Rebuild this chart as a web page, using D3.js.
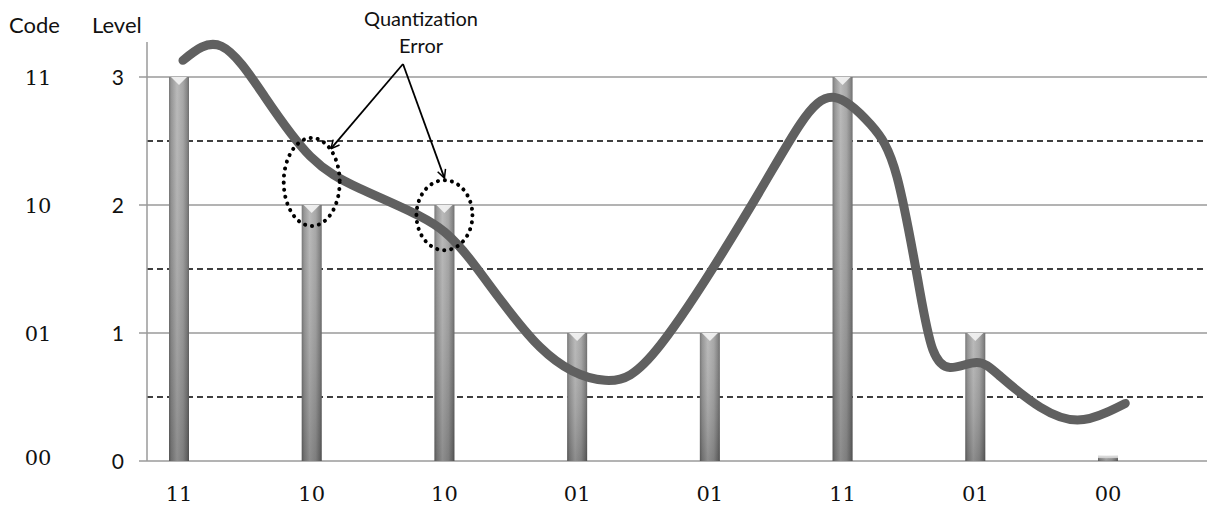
<!DOCTYPE html>
<html>
<head>
<meta charset="utf-8">
<script src="https://cdn.jsdelivr.net/npm/d3@7"></script>
<style>
  html, body { margin: 0; padding: 0; background: #fff; }
  svg { display: block; }
</style>
</head>
<body>
<svg id="chart" width="1207" height="506"></svg>
<script>
// ---- data ----
const categories = ["11", "10", "10", "01", "01", "11", "01", "00"];
const levels = [3, 2, 2, 1, 1, 3, 1, 0.04];
const levelTicks = [0, 1, 2, 3];
const codeTicks = ["00", "01", "10", "11"];
const thresholds = [0.5, 1.5, 2.5];
// analog signal: [category position, level]
const signalX = [0.03, 0.32, 0.65, 0.99, 1.36, 1.82, 2.19, 2.72, 3.21, 3.63, 4.28, 4.68, 4.94, 5.21, 5.41, 5.58, 5.68, 5.81, 6.01, 6.19, 6.49, 6.77, 6.99, 7.13];
const signalY = [3.13, 3.24, 2.84, 2.38, 2.13, 1.91, 1.58, 0.89, 0.63, 0.91, 1.94, 2.63, 2.84, 2.63, 2.22, 1.34, 0.87, 0.73, 0.77, 0.66, 0.42, 0.32, 0.38, 0.45];
const annotationText = ["Quantization", "Error"];
const errorPoints = [1, 2]; // categories marked as quantization error

(function () {
// ---- layout ----
const svg = d3.select("#chart");
const pLeft = 147, pRight = 1207, pTop = 42, pBottom = 461;

const x = d3.scaleLinear().domain([0, 7]).range([179, 1108]);
const y = d3.scaleLinear().domain([0, 3]).range([pBottom, 77]);

const defs = svg.append("defs");
const gH = defs.append("linearGradient").attr("id", "barH").attr("x1", 0).attr("x2", 1).attr("y1", 0).attr("y2", 0);
[[0, "#6c6c6c"], [0.12, "#8e8e8e"], [0.4, "#b4b4b4"], [0.7, "#a0a0a0"], [0.9, "#7c7c7c"], [1, "#626262"]]
  .forEach(([o, c]) => gH.append("stop").attr("offset", o).attr("stop-color", c));
const gV = defs.append("linearGradient").attr("id", "barV").attr("x1", 0).attr("x2", 0).attr("y1", 0).attr("y2", 1);
gV.append("stop").attr("offset", 0).attr("stop-color", "#fff").attr("stop-opacity", 0.08);
gV.append("stop").attr("offset", 1).attr("stop-color", "#000").attr("stop-opacity", 0.22);

const arrow = defs.append("marker").attr("id", "arr").attr("viewBox", "0 0 12 12")
  .attr("refX", 11).attr("refY", 6).attr("markerWidth", 10).attr("markerHeight", 10)
  .attr("markerUnits", "userSpaceOnUse").attr("orient", "auto");
arrow.append("path").attr("d", "M1,1 L11,6 L1,11").attr("fill", "none").attr("stroke", "#000").attr("stroke-width", 1.8);

// gridlines at levels
svg.append("g").selectAll("line").data(levelTicks).join("line")
  .attr("x1", 139).attr("x2", pRight).attr("y1", d => y(d)).attr("y2", d => y(d))
  .attr("stroke", "#9a9a9a").attr("stroke-width", 1.5);

// decision thresholds (dashed)
svg.append("g").selectAll("line").data(thresholds).join("line")
  .attr("x1", pLeft).attr("x2", pRight).attr("y1", d => y(d)).attr("y2", d => y(d))
  .attr("stroke", "#000").attr("stroke-width", 1.4).attr("stroke-dasharray", "6,4");

// y axis line
svg.append("line").attr("x1", pLeft).attr("x2", pLeft).attr("y1", pTop).attr("y2", pBottom)
  .attr("stroke", "#9a9a9a").attr("stroke-width", 1.5);

// bars
const bw = 20;
const barData = levels.map((v, i) => ({ i, v }));
const bars = svg.append("g").selectAll("g").data(barData).join("g");
bars.append("rect").attr("x", d => x(d.i) - bw / 2).attr("y", d => y(d.v))
  .attr("width", bw).attr("height", d => y(0) - y(d.v)).attr("fill", "url(#barH)");
bars.append("rect").attr("x", d => x(d.i) - bw / 2).attr("y", d => y(d.v))
  .attr("width", bw).attr("height", d => y(0) - y(d.v)).attr("fill", "url(#barV)");
bars.filter(d => d.v > 0.5).append("path")
  .attr("d", d => `M${x(d.i) - bw / 2 + 2},${y(d.v)} L${x(d.i) + bw / 2 - 2},${y(d.v)} L${x(d.i)},${y(d.v) + 8} Z`)
  .attr("fill", "#f4f4f4").attr("opacity", 0.9);
bars.filter(d => d.v <= 0.5).append("rect")
  .attr("x", d => x(d.i) - bw / 2).attr("y", d => y(d.v)).attr("width", bw).attr("height", 2)
  .attr("fill", "#d8d8d8");

// analog signal
const sig = signalX.map((v, i) => [v, signalY[i]]);
svg.append("path").datum(sig)
  .attr("d", d3.line().x(d => x(d[0])).y(d => y(d[1])).curve(d3.curveNatural))
  .attr("fill", "none").attr("stroke", "#606060").attr("stroke-width", 9)
  .attr("stroke-linecap", "round").attr("stroke-linejoin", "round");

// level tick labels
svg.append("g").selectAll("text").data(levelTicks).join("text")
  .attr("x", 124).attr("y", d => y(d)).attr("dy", "0.36em").attr("text-anchor", "end")
  .attr("font-family", "Lato, 'Open Sans', sans-serif").attr("font-size", 21).attr("fill", "#111")
  .text(d => d);

// code tick labels
svg.append("g").selectAll("text").data(codeTicks).join("text")
  .attr("x", 38).attr("y", (d, i) => y(i) - (i === 0 ? 4 : 0)).attr("dy", "0.36em").attr("text-anchor", "middle")
  .attr("font-family", "'DejaVu Serif', serif").attr("font-size", 21).attr("fill", "#111")
  .text(d => d);

// headers
svg.append("text").attr("x", 9).attr("y", 33).attr("font-family", "Lato, sans-serif").attr("font-size", 22).attr("fill", "#111").text("Code");
svg.append("text").attr("x", 92).attr("y", 33).attr("font-family", "Lato, sans-serif").attr("font-size", 22).attr("fill", "#111").text("Level");

// category labels
svg.append("g").selectAll("text").data(categories).join("text")
  .attr("x", (d, i) => x(i)).attr("y", 501).attr("text-anchor", "middle")
  .attr("font-family", "'DejaVu Serif', serif").attr("font-size", 21).attr("fill", "#111")
  .text(d => d);

// annotation
const ann = svg.append("g");
ann.selectAll("text").data(annotationText).join("text")
  .attr("x", 421).attr("y", (d, i) => 26 + i * 27).attr("text-anchor", "middle")
  .attr("font-family", "Lato, sans-serif").attr("font-size", 20).attr("fill", "#111")
  .text(d => d);
const ellipses = [{ c: errorPoints[0], lv: 2.18, rx: 28, ry: 44 }, { c: errorPoints[1], lv: 1.92, rx: 28, ry: 35 }];
ann.selectAll("ellipse").data(ellipses).join("ellipse")
  .attr("cx", d => x(d.c)).attr("cy", d => y(d.lv)).attr("rx", d => d.rx).attr("ry", d => d.ry)
  .attr("fill", "none").attr("stroke", "#000").attr("stroke-width", 4)
  .attr("stroke-dasharray", "0.1,7").attr("stroke-linecap", "round");
const tips = [[1.145, 2.44], [2.0, 2.21]];
ann.selectAll("line").data(tips).join("line")
  .attr("x1", 403).attr("y1", 64).attr("x2", d => x(d[0])).attr("y2", d => y(d[1]))
  .attr("stroke", "#000").attr("stroke-width", 1.8).attr("marker-end", "url(#arr)");
})();
</script>
</body>
</html>
